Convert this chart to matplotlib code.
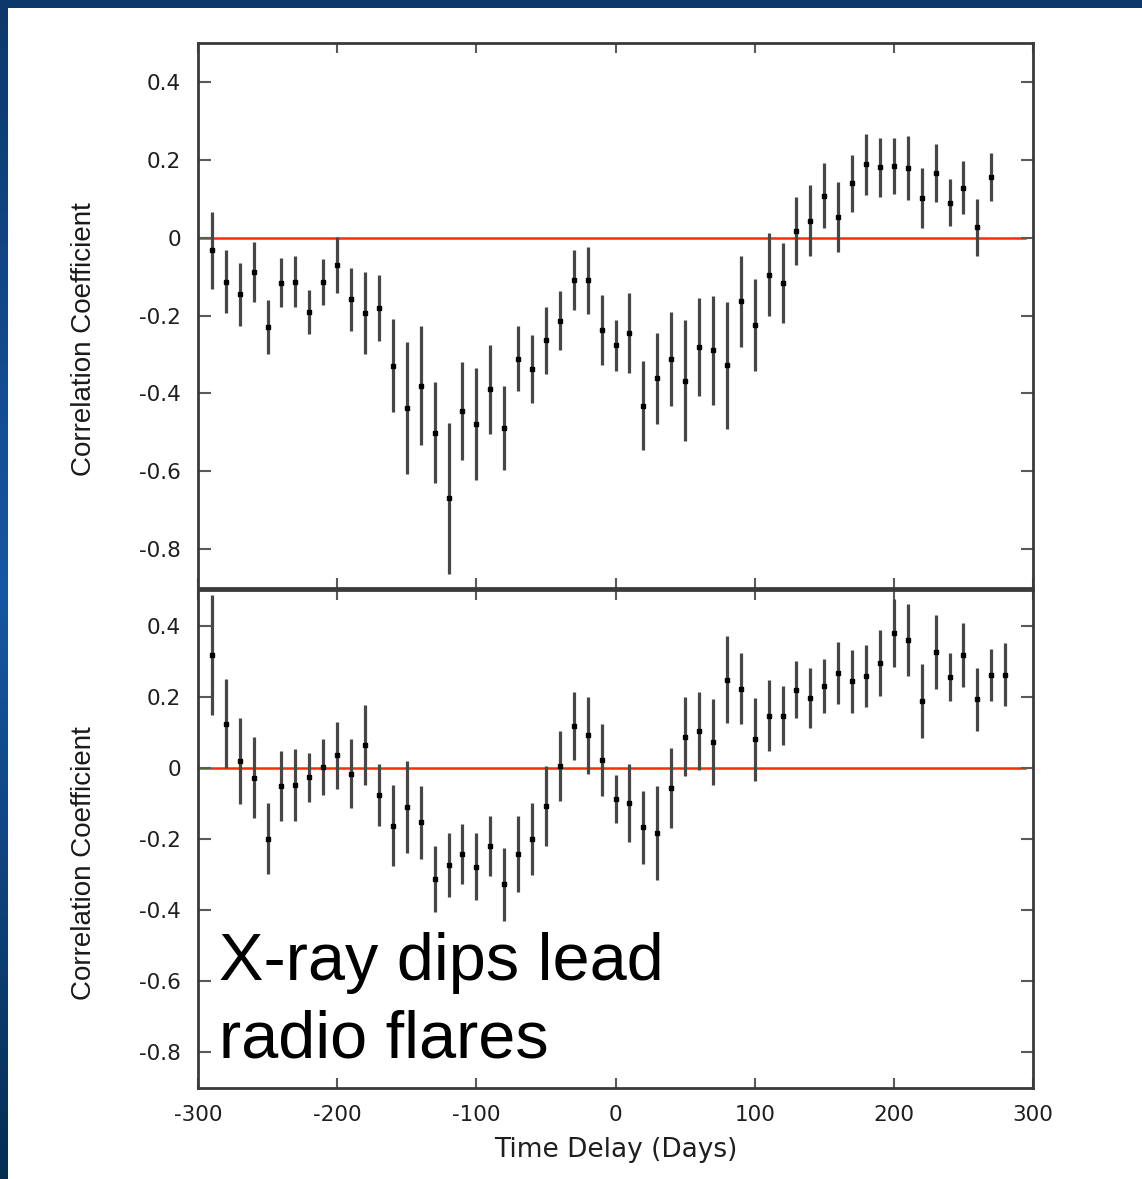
import numpy as np
import matplotlib
matplotlib.use("Agg")
import matplotlib.pyplot as plt
from matplotlib.patches import Rectangle

# Cross-correlation of X-ray and radio light curves versus time delay
lags_top = list(range(-290, 271, 10))
r_top = [-0.033, -0.113, -0.146, -0.088, -0.230, -0.116, -0.113, -0.191, -0.114, -0.070,
         -0.158, -0.194, -0.180, -0.329, -0.438, -0.380, -0.501, -0.670, -0.445, -0.479,
         -0.390, -0.489, -0.311, -0.337, -0.264, -0.213, -0.110, -0.110, -0.237,
         -0.277, -0.245, -0.432, -0.361, -0.312, -0.367, -0.280, -0.289, -0.328, -0.164,
         -0.224, -0.095, -0.116, 0.018, 0.043, 0.108, 0.054, 0.140, 0.188, 0.181,
         0.185, 0.179, 0.102, 0.166, 0.090, 0.128, 0.027, 0.156]
err_top = [0.098, 0.080, 0.082, 0.078, 0.070, 0.063, 0.065, 0.056, 0.060, 0.072,
           0.081, 0.105, 0.085, 0.119, 0.169, 0.153, 0.130, 0.195, 0.126, 0.144,
           0.115, 0.108, 0.083, 0.087, 0.086, 0.075, 0.077, 0.087, 0.089,
           0.066, 0.103, 0.114, 0.117, 0.121, 0.155, 0.126, 0.140, 0.163, 0.116,
           0.119, 0.107, 0.103, 0.087, 0.091, 0.083, 0.090, 0.073, 0.079, 0.076,
           0.072, 0.083, 0.077, 0.075, 0.060, 0.068, 0.073, 0.062]

lags_bottom = list(range(-290, 281, 10))
r_bottom = [0.317, 0.124, 0.019, -0.028, -0.199, -0.052, -0.048, -0.027, 0.002, 0.035,
            -0.016, 0.064, -0.077, -0.163, -0.109, -0.153, -0.312, -0.273, -0.243, -0.278,
            -0.220, -0.327, -0.241, -0.200, -0.107, 0.006, 0.117, 0.091, 0.022,
            -0.087, -0.099, -0.167, -0.182, -0.056, 0.087, 0.103, 0.072, 0.248, 0.223,
            0.080, 0.146, 0.147, 0.220, 0.197, 0.231, 0.266, 0.243, 0.258, 0.294,
            0.380, 0.360, 0.189, 0.326, 0.255, 0.317, 0.193, 0.262, 0.262]
err_bottom = [0.169, 0.125, 0.122, 0.114, 0.100, 0.098, 0.101, 0.069, 0.079, 0.094,
              0.096, 0.113, 0.087, 0.114, 0.129, 0.102, 0.092, 0.089, 0.084, 0.094,
              0.085, 0.103, 0.107, 0.100, 0.112, 0.098, 0.096, 0.107, 0.101,
              0.068, 0.110, 0.102, 0.132, 0.112, 0.111, 0.110, 0.121, 0.122, 0.101,
              0.116, 0.100, 0.082, 0.081, 0.084, 0.076, 0.087, 0.088, 0.086, 0.093,
              0.096, 0.101, 0.104, 0.103, 0.067, 0.089, 0.089, 0.073, 0.089]

x_ticks = [-300, -200, -100, 0, 100, 200, 300]
y_ticks = [0.4, 0.2, 0.0, -0.2, -0.4, -0.6, -0.8]
y_tick_labels = ["0.4", "0.2", "0", "-0.2", "-0.4", "-0.6", "-0.8"]
x_tick_labels = ["-300", "-200", "-100", "0", "100", "200", "300"]

W, H = 1142, 1179
fig = plt.figure(figsize=(W / 100, H / 100), dpi=100)

# slide backdrop: blue frame on the top and left, white panel elsewhere
bg = fig.add_axes([0, 0, 1, 1], zorder=-10)
bg.set_axis_off()
yy = np.linspace(0, 1, 256)[:, None]
top_c = np.array([0.05, 0.22, 0.42])
mid_c = np.array([0.09, 0.34, 0.64])
bot_c = np.array([0.02, 0.18, 0.33])
grad = np.where(yy < 0.5,
                top_c + (mid_c - top_c) * (yy / 0.5),
                mid_c + (bot_c - mid_c) * ((yy - 0.5) / 0.5))
grad = np.repeat(grad[:, None, :], 4, axis=1)
bg.imshow(grad, aspect="auto", extent=[0, 1, 0, 1], origin="upper")
bg.add_patch(Rectangle((8 / W, 0), 1, 1 - 8 / H, facecolor="white",
                       edgecolor="none", transform=bg.transAxes))
bg.set_xlim(0, 1)
bg.set_ylim(0, 1)

left = 198 / W
width = (1033 - 198) / W
ax_top = fig.add_axes([left, 1 - 588 / H, width, (588 - 43) / H])
ax_bot = fig.add_axes([left, 1 - 1088 / H, width, (1088 - 590) / H])

spine_c = "#3a3a3a"
tick_c = "#5a5a5a"
for ax, lags, r, err in ((ax_top, lags_top, r_top, err_top),
                         (ax_bot, lags_bottom, r_bottom, err_bottom)):
    ax.axhline(0, xmin=0.002, xmax=0.99, color="#ff2a0a", lw=1.8, zorder=1)
    ax.errorbar(lags, r, yerr=err, fmt="s", ms=3.3, mfc="black", mec="black",
                ecolor="#474747", elinewidth=2.3, capsize=0, zorder=3)
    ax.set_xlim(-300, 300)
    ax.set_ylim(-0.9, 0.5)
    ax.set_xticks(x_ticks)
    ax.set_yticks(y_ticks)
    ax.set_yticklabels(y_tick_labels)
    ax.tick_params(axis="y", direction="in", length=9, width=1.5, color=tick_c,
                   left=True, right=True, labelsize=15.5, labelcolor="#1e1e1e", pad=12)
    ax.tick_params(axis="x", direction="in", length=7, width=1.5, color=tick_c,
                   top=True, bottom=True, labelsize=15.5, labelcolor="#1e1e1e", pad=12)
    for s in ax.spines.values():
        s.set_color(spine_c)
        s.set_linewidth(2.0)

ax_top.set_xticklabels([])
ax_bot.set_xticklabels(x_tick_labels)
ax_bot.set_xlabel("Time Delay (Days)", fontsize=19, color="#1e1e1e", labelpad=9)

for yc in (339, 863):
    fig.text(84 / W, 1 - yc / H, "Correlation Coefficient", rotation=90,
             ha="center", va="center", fontsize=20, family="Liberation Sans",
             color="#1a1a1a")

fig.text(219 / W, 1 - 980 / H, "X-ray dips lead", fontsize=48,
         family="Liberation Sans", color="black", ha="left", va="baseline")
fig.text(219 / W, 1 - 1058 / H, "radio flares", fontsize=48,
         family="Liberation Sans", color="black", ha="left", va="baseline")

fig.savefig("out.png", dpi=100)
